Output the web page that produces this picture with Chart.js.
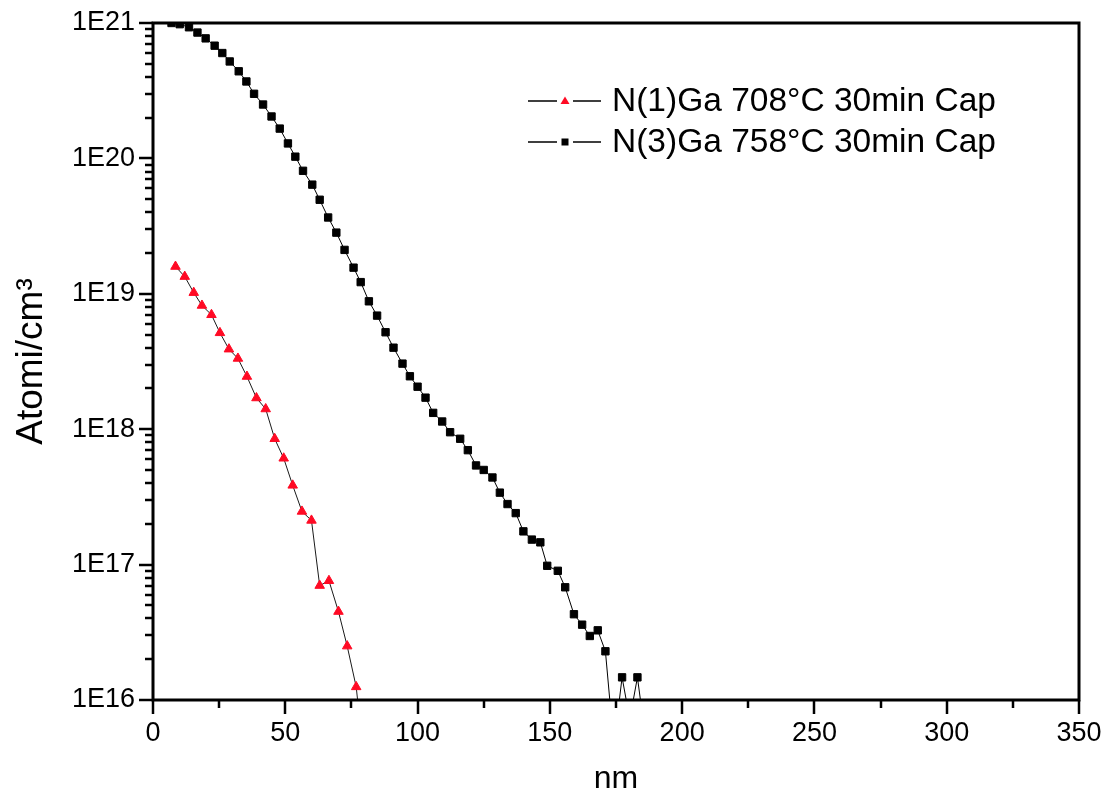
<!DOCTYPE html>
<html>
<head>
<meta charset="utf-8">
<script src="https://cdn.jsdelivr.net/npm/chart.js@4.4.0/dist/chart.umd.min.js"></script>
<style>
  html, body { margin: 0; padding: 0; background: #ffffff; }
  #wrap { width: 1110px; height: 803px; }
</style>
</head>
<body>
<div id="wrap"><canvas id="c" width="1110" height="803"></canvas></div>
<script>
// SIMS depth profiles: depth in nm, concentration in atoms/cm^3
const depthN1 = [8.5, 12.0, 15.4, 18.5, 22.1, 25.3, 28.7, 32.1, 35.5, 39.1, 42.6, 46.0,
  49.4, 52.8, 56.3, 59.9, 63.0, 66.5, 70.1, 73.4, 76.8, 80.2];
const concN1 = [1.59e19, 1.34e19, 1.02e19, 8.2e18, 7.0e18, 5.15e18, 3.9e18, 3.33e18, 2.45e18,
  1.70e18, 1.41e18, 8.5e17, 6.1e17, 3.85e17, 2.47e17, 2.12e17, 7.0e16, 7.6e16, 4.5e16,
  2.5e16, 1.25e16, 3e15];

const depthN3 = [7.0, 10.1, 13.6, 16.8, 19.9, 23.3, 26.2, 29.0, 32.4, 35.3, 38.2, 41.6, 44.8,
  47.9, 51.0, 53.8, 56.7, 60.2, 63.0, 66.2, 69.3, 72.4, 75.8, 78.5, 81.6, 84.7, 87.9, 90.9,
  94.3, 97.1, 100.0, 103.0, 105.9, 109.3, 112.3, 116.1, 119.0, 122.1, 125.0, 128.3, 131.1,
  134.0, 137.1, 140.0, 143.2, 146.4, 149.0, 153.0, 155.8, 159.1, 162.2, 165.1, 168.1, 171.0,
  174.2, 177.3, 180.2, 183.1, 186.3];
const concN3 = [1.0e21, 9.8e20, 9.3e20, 8.5e20, 7.7e20, 6.8e20, 6.0e20, 5.2e20, 4.4e20, 3.7e20,
  3.0e20, 2.5e20, 2.04e20, 1.66e20, 1.29e20, 1.03e20, 8.1e19, 6.4e19, 4.95e19, 3.66e19,
  2.83e19, 2.11e19, 1.56e19, 1.22e19, 8.8e18, 6.9e18, 5.2e18, 4.0e18, 3.05e18, 2.46e18,
  2.06e18, 1.71e18, 1.32e18, 1.14e18, 9.5e17, 8.5e17, 7.0e17, 5.4e17, 5.0e17, 4.4e17,
  3.4e17, 2.8e17, 2.4e17, 1.76e17, 1.53e17, 1.46e17, 9.8e16, 9.0e16, 6.8e16, 4.3e16,
  3.6e16, 2.97e16, 3.27e16, 2.29e16, 4.6e15, 1.47e16, 7.2e15, 1.47e16, 5e15];

const seriesNames = ['N(1)Ga 708°C 30min Cap', 'N(3)Ga 758°C 30min Cap'];
const xTickStep = 50;
const xMinorStep = 25;
const xRange = [0, 350];
const yRange = [1e16, 1e21];
const xTitle = 'nm';
const yTitle = 'Atomi/cm³';

const FONT = "'Liberation Sans', Arial, Helvetica, sans-serif";
const toPoints = (xs, ys) => xs.map((x, i) => ({ x: x, y: ys[i] }));

// Plot frame, outward major/minor ticks and the in-plot legend
const framePlugin = {
  id: 'frame',
  afterDatasetsDraw(chart) {
    const { ctx, chartArea: a, scales } = chart;
    const xs = scales.x, ys = scales.y;
    ctx.save();
    ctx.strokeStyle = '#000';
    ctx.lineCap = 'butt';

    // ticks on the left axis
    ctx.lineWidth = 2.5;
    const e0 = Math.round(Math.log10(yRange[0]));
    const e1 = Math.round(Math.log10(yRange[1]));
    for (let e = e0; e <= e1; e++) {
      for (let m = 1; m <= 9; m++) {
        const v = m * Math.pow(10, e);
        if (v > yRange[1] * 1.0001) break;
        const py = Math.round(ys.getPixelForValue(v));
        const len = m === 1 ? 14 : 8;
        ctx.beginPath();
        ctx.moveTo(a.left - len, py);
        ctx.lineTo(a.left, py);
        ctx.stroke();
      }
    }
    // ticks on the bottom axis
    for (let v = xRange[0]; v <= xRange[1]; v += xMinorStep) {
      const px = Math.round(xs.getPixelForValue(v));
      const len = v % xTickStep === 0 ? 14 : 8;
      ctx.beginPath();
      ctx.moveTo(px, a.bottom);
      ctx.lineTo(px, a.bottom + len);
      ctx.stroke();
    }

    // frame
    ctx.lineWidth = 3;
    ctx.strokeRect(a.left, a.top, a.right - a.left, a.bottom - a.top);

    // legend: line - marker - line, then label
    const rows = [
      { ds: chart.data.datasets[0], y: 101 },
      { ds: chart.data.datasets[1], y: 142 }
    ];
    rows.forEach(r => {
      ctx.lineWidth = 1.5;
      ctx.strokeStyle = '#000';
      ctx.beginPath();
      ctx.moveTo(528, r.y); ctx.lineTo(557, r.y);
      ctx.moveTo(573, r.y); ctx.lineTo(601, r.y);
      ctx.stroke();
      ctx.fillStyle = r.ds.pointBackgroundColor;
      ctx.beginPath();
      if (r.ds.pointStyle === 'triangle') {
        ctx.moveTo(565, r.y - 4.5); ctx.lineTo(569.5, r.y + 3); ctx.lineTo(560.5, r.y + 3);
      } else {
        ctx.rect(561.5, r.y - 3.5, 7, 7);
      }
      ctx.closePath();
      ctx.fill();
      ctx.fillStyle = '#000';
      ctx.font = '33.5px ' + FONT;
      ctx.textAlign = 'left';
      ctx.textBaseline = 'middle';
      ctx.fillText(r.ds.label, 612, r.y + 1);
    });
    ctx.restore();
  }
};

new Chart(document.getElementById('c'), {
  type: 'line',
  data: {
    datasets: [
      {
        label: seriesNames[0],
        data: toPoints(depthN1, concN1),
        borderColor: '#1a1a1a',
        borderWidth: 1,
        pointStyle: 'triangle',
        pointRadius: 5.5,
        pointBorderWidth: 1,
        pointBackgroundColor: '#ff0a24',
        pointBorderColor: '#ff0a24',
        tension: 0
      },
      {
        label: seriesNames[1],
        data: toPoints(depthN3, concN3),
        borderColor: '#000000',
        borderWidth: 1,
        pointStyle: 'rect',
        pointRadius: 5.2,
        pointBorderWidth: 1,
        pointBackgroundColor: '#000000',
        pointBorderColor: '#000000',
        tension: 0
      }
    ]
  },
  options: {
    responsive: false,
    animation: false,
    devicePixelRatio: 1,
    layout: { padding: { top: 23, right: 31, left: 0, bottom: 0 } },
    plugins: { legend: { display: false }, tooltip: { enabled: false } },
    scales: {
      x: {
        type: 'linear',
        min: xRange[0],
        max: xRange[1],
        grid: { display: false, drawTicks: false },
        border: { display: false },
        ticks: {
          stepSize: xTickStep,
          padding: 17,
          color: '#000',
          font: { family: FONT, size: 27 },
          maxRotation: 0
        },
        title: {
          display: true,
          text: xTitle,
          color: '#000',
          font: { family: FONT, size: 32 },
          padding: { top: 0, bottom: 5 }
        },
        afterFit(scale) {
          scale.height = 103;
          scale.paddingLeft = 0;
          scale.paddingRight = 0;
        }
      },
      y: {
        type: 'logarithmic',
        min: yRange[0],
        max: yRange[1],
        grid: { display: false, drawTicks: false },
        border: { display: false },
        ticks: {
          autoSkip: false,
          padding: 18,
          color: '#000',
          font: { family: FONT, size: 27 },
          callback(value) {
            const e = Math.log10(value);
            return Math.abs(e - Math.round(e)) < 1e-9 ? '1E' + Math.round(e) : '';
          }
        },
        title: {
          display: true,
          text: yTitle,
          color: '#000',
          font: { family: FONT, size: 37 },
          padding: { top: 10, bottom: 0 }
        },
        afterFit(scale) {
          scale.width = 153;
          scale.paddingTop = 0;
          scale.paddingBottom = 0;
        }
      }
    }
  },
  plugins: [framePlugin]
});
</script>
</body>
</html>
